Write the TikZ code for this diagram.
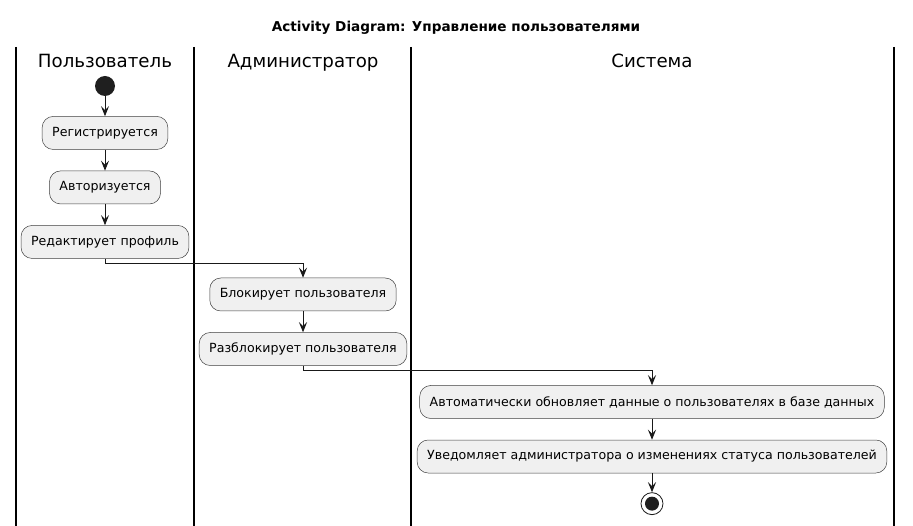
\documentclass[tikz,border=0pt]{standalone}
\usepackage{fontspec}
\setmainfont{DejaVu Sans}
\usetikzlibrary{arrows.meta,positioning}

\begin{document}
\begin{tikzpicture}[
  x=1pt,y=-1pt,
  node distance=21pt,
  action/.style={draw=black!75,fill=black!6,rectangle,rounded corners=11pt,minimum height=33pt,inner xsep=10pt,font=\fontsize{12.6}{14}\selectfont,line width=0.5pt},
  lane/.style={line width=1.2pt,black},
  lanetitle/.style={font=\fontsize{18.2}{21}\selectfont,anchor=base},
  arr/.style={-{Stealth[length=10pt,width=8pt,inset=4pt]},line width=0.8pt,black!90}
]
\useasboundingbox (0,0) rectangle (913,526);

% title
\node[font=\fontsize{13.6}{16}\selectfont\bfseries,anchor=base] (title) at (456,32) {Activity Diagram: Управление пользователями};

% swimlanes
\foreach \x in {16,194,411,894}
  \draw[lane] (\x,47) -- (\x,526);
\node[lanetitle] (lane1) at (105,67.5) {Пользователь};
\node[lanetitle] (lane2) at (303,67.5) {Администратор};
\node[lanetitle] (lane3) at (652,67.5) {Система};

% user
\node[circle,fill=black!88,minimum size=20pt,inner sep=0pt] (start) at (105,86) {};
\node[action,below=20pt of start] (reg) {Регистрируется};
\node[action,below=of reg] (auth) {Авторизуется};
\node[action,below=of auth] (edit) {Редактирует профиль};

% admin
\node[action] (block) at (303,294.5) {Блокирует пользователя};
\node[action,below=of block] (unblock) {Разблокирует пользователя};

% system
\node[action] (update) at (652,402) {Автоматически обновляет данные о пользователях в базе данных};
\node[action,below=of update] (notify) {Уведомляет администратора о изменениях статуса пользователей};
\node[circle,draw=black!90,line width=0.8pt,minimum size=22pt,inner sep=0pt,below=19pt of notify] (stop) {};
\node[circle,fill=black!88,minimum size=14pt,inner sep=0pt] (stopdot) at (stop) {};

\draw[arr] (start) -- (reg);
\draw[arr] (reg) -- (auth);
\draw[arr] (auth) -- (edit);
\draw[arr] (edit.south) -- ++(0,5) -| (block.north);
\draw[arr] (block) -- (unblock);
\draw[arr] (unblock.south) -- ++(0,5) -| (update.north);
\draw[arr] (update) -- (notify);
\draw[arr] (notify) -- (stop);

\end{tikzpicture}
\end{document}
